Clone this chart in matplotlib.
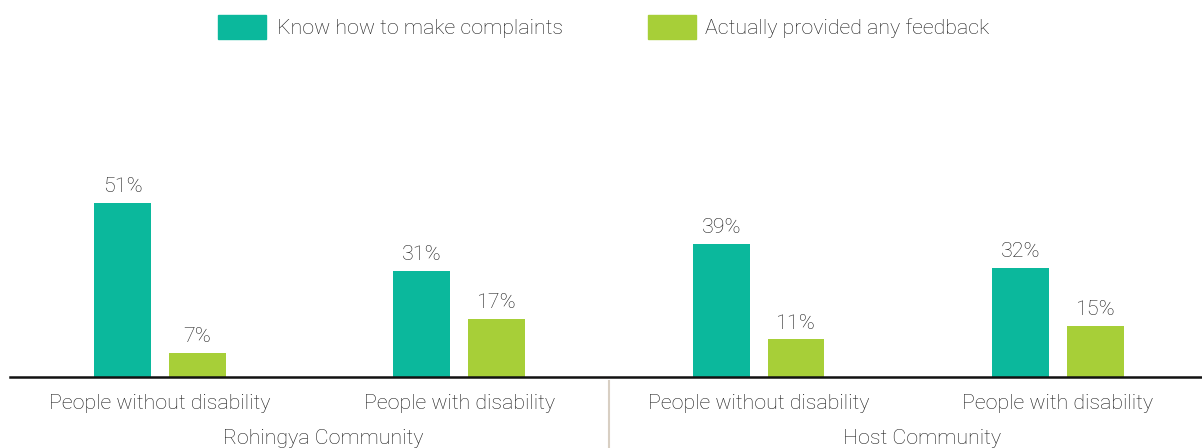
import matplotlib
matplotlib.use('Agg')
import matplotlib.pyplot as plt
from matplotlib.patches import Rectangle
import numpy as np

plt.rcParams['font.family'] = ['Roboto', 'DejaVu Sans']
plt.rcParams['font.weight'] = 'light'

categories = ['People without disability', 'People with disability',
              'People without disability', 'People with disability']
groups = ['Rohingya Community', 'Host Community']
series = ['Know how to make complaints', 'Actually provided any feedback']
know = [51, 31, 39, 32]
feedback = [7, 17, 11, 15]

teal = '#0bb89c'
green = '#a7cf38'
txt = '#1a1a1a'
fs = 15.4

W, H = 1202, 448
fig = plt.figure(figsize=(W / 100, H / 100), dpi=100)

# axes placed in pixels: x=-0.5 at 10.35px, 299.3px per category
x0, unit = 10.35, 299.3
ybase, ypx = 377, 3.41
ax = fig.add_axes([x0 / W, (H - ybase) / H, 4 * unit / W, 60 * ypx / H])
ax.set_xlim(-0.5, 3.5)
ax.set_ylim(0, 60)

x = np.arange(len(categories))
w = 0.19
off = 0.125
b1 = ax.bar(x - off, know, w, color=teal)
b2 = ax.bar(x + off, feedback, w, color=green)
for bars in (b1, b2):
    ax.bar_label(bars, labels=[f'{v}%' for v in bars.datavalues],
                 padding=5, fontsize=fs, color=txt)

for s in ['top', 'right', 'left']:
    ax.spines[s].set_visible(False)
ax.spines['bottom'].set_linewidth(1.8)
ax.spines['bottom'].set_color('#111111')
ax.set_yticks([])
ax.set_xticks(x)
ax.set_xticklabels(categories, fontsize=fs, color=txt)
ax.tick_params(axis='x', length=0, pad=12)

# group labels and separator below the axis
for gx, g in zip([0.545, 2.545], groups):
    ax.text(gx, -0.3, g, transform=ax.get_xaxis_transform(),
            ha='center', va='center', fontsize=fs, color=txt)
ax.plot([1.5, 1.5], [-0.02, -0.35], transform=ax.get_xaxis_transform(),
        color='#d8cfc3', lw=1.5, clip_on=False)

# legend
for lx, tx, c, s in [(218, 277, teal, series[0]), (648, 705, green, series[1])]:
    fig.patches.append(Rectangle((lx / W, (H - 39) / H), 48 / W, 24 / H,
                                 transform=fig.transFigure, color=c))
    fig.text(tx / W, (H - 28) / H, s, ha='left', va='center',
             fontsize=fs, color=txt)

plt.savefig('out.png', dpi=100)
